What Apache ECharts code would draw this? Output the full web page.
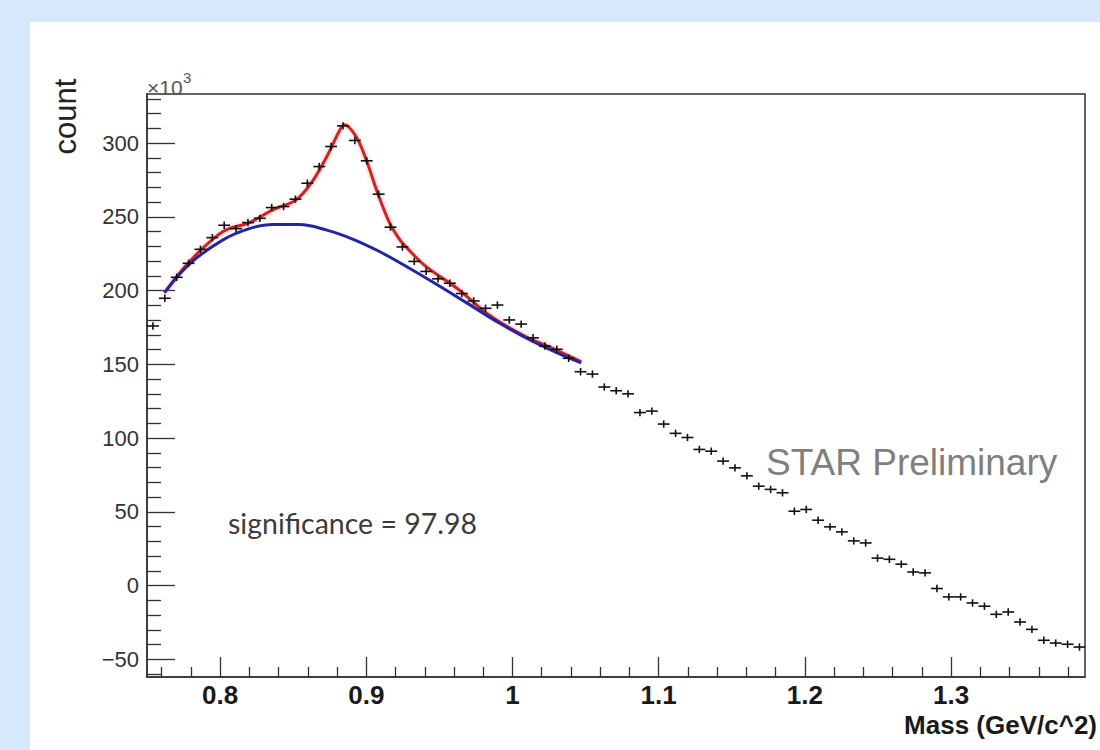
<!DOCTYPE html>
<html>
<head>
<meta charset="utf-8">
<script src="https://cdn.jsdelivr.net/npm/echarts@6/dist/echarts.min.js"></script>
<style>
  html, body { margin: 0; padding: 0; background: #d5e8fc; }
  #wrap { position: relative; width: 1100px; height: 750px; background: #d5e8fc; overflow: hidden; }
  #chart { position: absolute; left: 30px; top: 22px; width: 1070px; height: 728px; background: #ffffff; }
</style>
</head>
<body>
<div id="wrap"><div id="chart"></div></div>
<script>
// Invariant-mass histogram: 80 bins from 0.75 GeV/c^2, counts in units of 10^3
const histMin = 0.75;
const binWidth = 0.008125;
const counts = [
  176.0, 194.8, 209.0, 218.5, 228.0, 235.9, 244.3, 242.0, 246.1, 249.0,
  256.3, 257.0, 262.0, 272.8, 284.1, 297.7, 311.7, 301.8, 288.0, 265.4,
  243.0, 229.6, 219.8, 213.0, 208.0, 205.0, 198.0, 193.0, 188.0, 190.2,
  180.1, 177.3, 168.0, 162.4, 160.2, 154.1, 145.0, 143.4, 134.6, 132.1,
  130.0, 117.3, 118.3, 109.5, 103.2, 100.4, 92.3, 91.1, 84.4, 79.8,
  74.4, 67.4, 65.2, 62.9, 50.4, 51.6, 44.3, 39.8, 36.4, 30.3,
  28.9, 18.6, 17.8, 14.5, 9.2, 8.6, -2.0, -7.7, -7.7, -11.8,
  -14.0, -19.5, -17.9, -24.7, -29.7, -37.1, -39.0, -39.8, -41.7
];
const countErr = 2.5;

// Signal + background fit (red)
const fitMass = [0.762, 0.779, 0.802, 0.820, 0.836, 0.852, 0.863, 0.873, 0.882, 0.885,
                 0.893, 0.900, 0.907, 0.916, 0.923, 0.927, 0.941, 0.962, 0.984, 1.007, 1.030, 1.047];
const fitCount = [198.6, 219.6, 240.0, 246.1, 254.7, 261.5, 273.9, 290.9, 309.0, 312.4,
                  304.5, 288.6, 268.3, 245.7, 234.4, 229.8, 216.2, 201.6, 183.5, 169.9, 159.7, 151.8];

// Background component of the fit (blue)
const bgMass = [0.762, 0.779, 0.802, 0.820, 0.836, 0.854, 0.873, 0.891, 0.909, 0.928,
                0.946, 0.969, 0.991, 1.014, 1.037, 1.047];
const bgCount = [198.6, 218.0, 234.4, 242.0, 244.8, 244.8, 241.0, 234.8, 226.5, 216.0,
                 205.5, 191.5, 178.0, 165.5, 155.0, 151.0];

// Axis ticks
const xMajorTicks = [0.8, 0.9, 1.0, 1.1, 1.2, 1.3];
const xMinorTicks = [0.76, 0.78, 0.82, 0.84, 0.86, 0.88, 0.92, 0.94, 0.96, 0.98,
                     1.02, 1.04, 1.06, 1.08, 1.12, 1.14, 1.16, 1.18, 1.22, 1.24,
                     1.26, 1.28, 1.32, 1.34, 1.36, 1.38];
const yMajorTicks = [-50, 0, 50, 100, 150, 200, 250, 300];
const yMinorTicks = [-60, -40, -30, -20, -10, 10, 20, 30, 40, 60, 70, 80, 90,
                     110, 120, 130, 140, 160, 170, 180, 190, 210, 220, 230, 240,
                     260, 270, 280, 290, 310, 320, 330];

const xRange = [0.75, 1.3916];
const yRange = [-62.0, 333.3];

const histData = counts.map((c, i) => [histMin + (i + 0.5) * binWidth, c]);
const fitData = fitMass.map((m, i) => [m, fitCount[i]]);
const bgData = bgMass.map((m, i) => [m, bgCount[i]]);

const axisColor = '#333333';
const sans = 'Liberation Sans, Arial, Helvetica, sans-serif';

const chart = echarts.init(document.getElementById('chart'), null, { renderer: 'svg' });

chart.setOption({
  animation: false,
  backgroundColor: '#ffffff',
  grid: {
    left: 117, top: 72, right: 15, bottom: 73,
    show: true, borderColor: axisColor, borderWidth: 1.5, backgroundColor: 'transparent'
  },
  xAxis: [
    {
      type: 'value', min: xRange[0], max: xRange[1], position: 'bottom',
      axisLine: { show: true, onZero: false, lineStyle: { color: axisColor, width: 1.5 } },
      axisTick: { show: true, inside: true, length: 10, customValues: xMinorTicks,
                  lineStyle: { color: axisColor, width: 1.3 } },
      axisLabel: {
        show: true, customValues: xMajorTicks, margin: 5,
        fontSize: 26, fontWeight: 'bold', fontFamily: sans, color: '#1a1a1a',
        formatter: v => String(Math.round(v * 10) / 10)
      },
      splitLine: { show: false }
    },
    {
      type: 'value', min: xRange[0], max: xRange[1], position: 'bottom',
      axisLine: { show: false, onZero: false },
      axisTick: { show: true, inside: true, length: 20, customValues: xMajorTicks,
                  lineStyle: { color: axisColor, width: 1.3 } },
      axisLabel: { show: false },
      splitLine: { show: false }
    }
  ],
  yAxis: [
    {
      type: 'value', min: yRange[0], max: yRange[1], position: 'left',
      axisLine: { show: true, onZero: false, lineStyle: { color: axisColor, width: 1.5 } },
      axisTick: { show: true, inside: true, length: 14, customValues: yMinorTicks,
                  lineStyle: { color: axisColor, width: 1.3 } },
      axisLabel: {
        show: true, customValues: yMajorTicks, margin: 8,
        fontSize: 22, fontFamily: sans, color: '#333333',
        formatter: v => (v < 0 ? '\u2212' + Math.abs(v) : String(v))
      },
      splitLine: { show: false }
    },
    {
      type: 'value', min: yRange[0], max: yRange[1], position: 'left',
      axisLine: { show: false, onZero: false },
      axisTick: { show: true, inside: true, length: 28, customValues: yMajorTicks,
                  lineStyle: { color: axisColor, width: 1.3 } },
      axisLabel: { show: false },
      splitLine: { show: false }
    }
  ],
  series: [
    {
      name: 'fit', type: 'line', xAxisIndex: 0, yAxisIndex: 0,
      data: fitData, smooth: 0.35, symbol: 'none', z: 3,
      lineStyle: { color: '#d02424', width: 3,
                   shadowColor: 'rgba(255,120,120,0.55)', shadowBlur: 4 }
    },
    {
      name: 'background', type: 'line', xAxisIndex: 0, yAxisIndex: 0,
      data: bgData, smooth: 0.4, symbol: 'none', z: 4,
      lineStyle: { color: '#2424a6', width: 3 }
    },
    {
      name: 'data', type: 'custom', xAxisIndex: 0, yAxisIndex: 0,
      data: histData, clip: true, z: 5,
      encode: { x: 0, y: 1 },
      renderItem: function (params, api) {
        const x = api.value(0), y = api.value(1);
        const l = api.coord([x - binWidth / 2, y]);
        const r = api.coord([x + binWidth / 2, y]);
        const t = api.coord([x, y + countErr]);
        const b = api.coord([x, y - countErr]);
        const style = { stroke: '#111111', lineWidth: 1.6 };
        return {
          type: 'group',
          children: [
            { type: 'line', shape: { x1: l[0], y1: l[1], x2: r[0], y2: r[1] }, style: style },
            { type: 'line', shape: { x1: t[0], y1: t[1], x2: b[0], y2: b[1] }, style: style }
          ]
        };
      }
    }
  ],
  graphic: [
    {
      type: 'text', x: 35, y: 94.5, rotation: Math.PI / 2,
      style: { text: 'count', fontSize: 31, fontFamily: sans, fill: '#222222',
               align: 'center', verticalAlign: 'middle', textAlign: 'center', textVerticalAlign: 'middle' }
    },
    {
      type: 'text', x: 117, y: 65,
      style: { text: '\u00d710', fontSize: 21, fontFamily: sans, fill: '#555555',
               align: 'left', verticalAlign: 'middle', textAlign: 'left', textVerticalAlign: 'middle' }
    },
    {
      type: 'text', x: 153, y: 55,
      style: { text: '3', fontSize: 15, fontFamily: sans, fill: '#555555',
               align: 'left', verticalAlign: 'middle', textAlign: 'left', textVerticalAlign: 'middle' }
    },
    {
      type: 'text', x: 1067, y: 703,
      style: { text: 'Mass (GeV/c^2)', fontSize: 26, fontWeight: 'bold', fontFamily: sans, fill: '#1a1a1a',
               align: 'right', verticalAlign: 'middle', textAlign: 'right', textVerticalAlign: 'middle' }
    },
    {
      type: 'text', x: 198, y: 501,
      style: { text: 'significance = 97.98', fontSize: 28.5, fontFamily: 'Lato, Open Sans, sans-serif', fill: '#3c3c3c',
               align: 'left', verticalAlign: 'middle', textAlign: 'left', textVerticalAlign: 'middle' }
    },
    {
      type: 'text', x: 736, y: 440,
      style: { text: 'STAR Preliminary', fontSize: 37, fontFamily: sans, fill: '#7f7f7f',
               align: 'left', verticalAlign: 'middle', textAlign: 'left', textVerticalAlign: 'middle' }
    }
  ]
});
</script>
</body>
</html>
